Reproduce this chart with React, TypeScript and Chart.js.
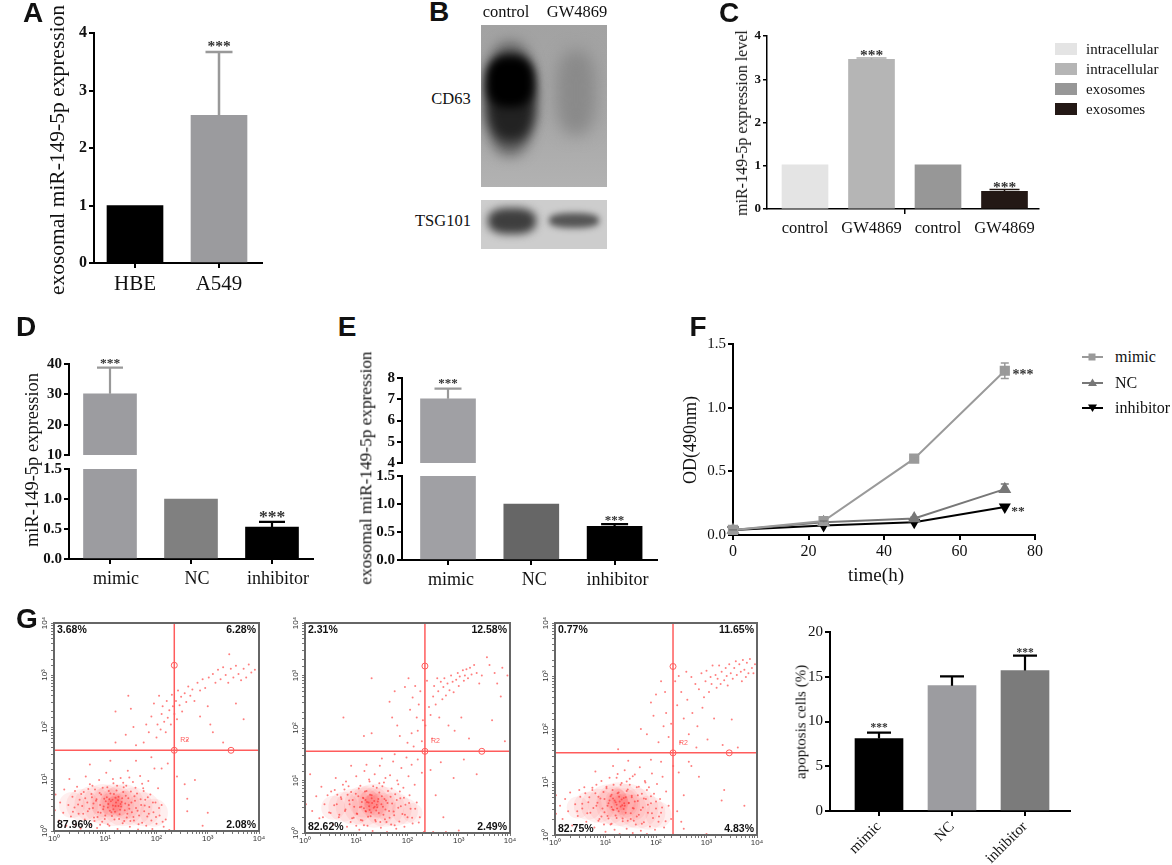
import { useEffect, useRef } from 'react';
import { Chart, registerables } from 'chart.js';

Chart.register(...registerables);

const SERIF = '"Liberation Serif"';
const SANS = '"Liberation Sans"';

// panel A
const catsA = ['HBE', 'A549'];
const valuesA = [1, 2.57];
const errTopA = [null, 3.67];
const colorsA = ['#000000', '#9b9b9e'];
const starsA = [{ x: 1, y: 3.81, size: 15.5 }];

// panel C
const catsC = ['control', 'GW4869', 'control', 'GW4869'];
const valuesC = [1.02, 3.46, 1.02, 0.41];
const errTopC = [null, 3.49, null, 0.45];
const colorsC = ['#e4e4e4', '#b5b5b5', '#979797', '#231815'];
const legendC = ['intracellular', 'intracellular', 'exosomes', 'exosomes'];
const starsC = [{ x: 1, y: 3.61, size: 15.5 }, { x: 3, y: 0.56, size: 15.5 }];

// panels D and E have a broken axis, so two charts each
const catsDE = ['mimic', 'NC', 'inhibitor'];
const upperD = [30.2, null, null];
const errTopUpperD = [38.8, null, null];
const lowerD = [1.5, 1, 0.53];
const errTopLowerD = [null, null, 0.62];
const colorsD = ['#9c9ca0', '#808080', '#000000'];
const upperE = [7.02, null, null];
const errTopUpperE = [7.5, null, null];
const lowerE = [1.5, 1, 0.6];
const errTopLowerE = [null, null, 0.64];
const colorsE = ['#a0a0a4', '#666666', '#000000'];

// panel F
const hoursF = [0, 24, 48, 72];
const mimicF = [0.04, 0.11, 0.6, 1.29];
const mimicErrF = [0, 0.01, 0.01, 0.06];
const ncF = [0.04, 0.1, 0.13, 0.36];
const ncErrF = [0, 0.01, 0.01, 0.04];
const inhibitorF = [0.04, 0.075, 0.1, 0.22];

// panel G bars
const valuesG = [8.1, 14, 15.7];
const errTopG = [8.75, 15.05, 17.35];
const colorsG = ['#000000', '#9c9ca0', '#7b7b7b'];

// flow plots: log10 of the two channels
const pct1 = ['3.68%', '6.28%', '87.96%', '2.08%'];
const pct2 = ['2.31%', '12.58%', '82.62%', '2.49%'];
const pct3 = ['0.77%', '11.65%', '82.75%', '4.83%'];
const gate1 = [2.347, 1.552, 3.454, 3.187];
const gate2 = [2.34, 1.556, 3.45, 3.18];
const gate3 = [2.337, 1.55, 3.45, 3.18];

// density of the main population: [x, y, radius]
const blobs1 = [[0.35, 0.5, 13], [0.55, 0.5, 16], [0.75, 0.52, 18], [0.95, 0.52, 20], [1.15, 0.5, 21], [1.35, 0.5, 21], [1.55, 0.47, 19], [1.75, 0.42, 17], [1.95, 0.35, 14], [1.0, 0.55, 15], [1.2, 0.55, 15], [1.4, 0.5, 14], [1.1, 0.52, 11], [1.25, 0.5, 11], [1.2, 0.52, 8], [1.15, 0.55, 6]];
const blobs2 = [[0.55, 0.48, 12], [0.75, 0.5, 15], [0.95, 0.5, 18], [1.15, 0.52, 20], [1.35, 0.52, 22], [1.55, 0.5, 20], [1.75, 0.45, 17], [1.95, 0.42, 13], [2.1, 0.38, 10], [1.15, 0.58, 15], [1.35, 0.58, 15], [1.5, 0.52, 13], [1.25, 0.6, 11], [1.38, 0.55, 11], [1.3, 0.58, 8], [1.27, 0.62, 6]];
const blobs3 = [[0.45, 0.52, 11], [0.65, 0.55, 14], [0.85, 0.55, 17], [1.05, 0.58, 20], [1.25, 0.58, 22], [1.45, 0.55, 22], [1.65, 0.5, 20], [1.85, 0.42, 17], [2.05, 0.38, 13], [1.15, 0.62, 15], [1.35, 0.6, 15], [1.55, 0.52, 13], [1.22, 0.66, 11], [1.38, 0.58, 11], [1.3, 0.62, 8], [1.22, 0.68, 6]];

const lower1 = [[0.02, 0.4], [0.03, 0.7], [0.1, 0.2], [0.12, 0.55], [0.18, 0.35], [0.2, 0.8], [0.24, 0.1], [0.28, 0.5], [0.3, 1], [0.33, 0.28], [0.36, 0.66], [0.4, 0.45], [0.42, 0.12], [0.45, 0.85], [0.48, 0.33], [0.5, 0.6], [0.52, 0.05], [0.55, 0.48], [0.58, 0.75], [0.6, 0.22], [0.62, 1.05], [0.65, 0.55], [0.66, 0.38], [0.7, 0.9], [0.72, 0.12], [0.74, 0.65], [0.76, 0.44], [0.78, 0.26], [0.8, 0.8], [0.82, 0.58], [0.84, 0.06], [0.86, 0.36], [0.88, 0.98], [0.9, 0.5], [0.92, 0.7], [0.94, 0.18], [0.96, 0.42], [0.98, 0.62], [1, 0.3], [1.02, 1.12], [1.04, 0.84], [1.06, 0.52], [1.08, 0.1], [1.1, 0.72], [1.12, 0.36], [1.14, 0.6], [1.16, 0.92], [1.18, 0.22], [1.2, 0.48], [1.22, 0.78], [1.24, 0.04], [1.26, 0.66], [1.28, 0.32], [1.3, 1.02], [1.32, 0.56], [1.34, 0.15], [1.36, 0.84], [1.38, 0.4], [1.4, 0.68], [1.42, 0.26], [1.44, 1.16], [1.46, 0.5], [1.48, 0.08], [1.5, 0.76], [1.52, 0.36], [1.54, 0.94], [1.56, 0.2], [1.58, 0.58], [1.6, 0.44], [1.62, 0.72], [1.64, 0.03], [1.66, 0.3], [1.68, 1.06], [1.7, 0.5], [1.72, 0.16], [1.74, 0.82], [1.76, 0.38], [1.78, 0.6], [1.8, 0.1], [1.82, 0.28], [1.84, 0.96], [1.86, 0.46], [1.88, 0.7], [1.9, 0.2], [1.92, 0.04], [1.94, 0.36], [1.96, 1.2], [1.98, 0.55], [2, 0.14], [2.03, 0.82], [2.06, 0.3], [2.1, 0.5], [2.14, 0.08], [2.18, 0.22], [2.22, 1.3], [2.25, 0.02], [2.4, 1.05], [2.55, 0.9], [2.6, 0.62], [2.75, 0.98], [2.6, 0.38], [3, 0.35], [2.9, 0.1], [1.1, 1.35], [1.6, 1.35], [1.9, 1.42], [2.1, 1.2], [0.7, 1.28]];
const dense1 = [[1.21, 0.55], [0.97, 0.47], [1.33, 0.63], [1.09, 0.39], [1.47, 0.43], [0.83, 0.61], [1.17, 0.71], [1.29, 0.41], [1.03, 0.65], [1.39, 0.53], [0.91, 0.35], [1.57, 0.67], [1.13, 0.29], [0.77, 0.53], [1.43, 0.33], [1.25, 0.59], [1.07, 0.77], [0.69, 0.43], [1.51, 0.55], [1.19, 0.37], [0.89, 0.73], [1.35, 0.75], [1.63, 0.39], [0.99, 0.23], [1.27, 0.23], [0.61, 0.63], [1.11, 0.57], [1.45, 0.63], [0.85, 0.27], [1.69, 0.61], [1.23, 0.87], [1.05, 0.45], [1.37, 0.19], [0.73, 0.71], [1.55, 0.27], [0.95, 0.83], [1.31, 0.47], [1.15, 0.49], [1.77, 0.49], [0.57, 0.33], [1.41, 0.87], [0.79, 0.19], [1.59, 0.83], [1.01, 0.57], [1.49, 0.19], [0.67, 0.81], [1.85, 0.33], [1.75, 0.77], [0.47, 0.51], [0.53, 0.71], [1.93, 0.55], [1.99, 0.27], [0.37, 0.37], [1.65, 0.13], [0.41, 0.77], [1.15, 1], [1.35, 0.93], [1.05, 0.13], [1.83, 0.65], [2.05, 0.44], [2.12, 0.18], [0.9, 0.12], [1.72, 0.91], [0.75, 0.87], [1.47, 1.03], [1.2, 0.64], [1.08, 0.61], [1.3, 0.52], [1.16, 0.42], [1.26, 0.48]];
const upper1 = [[1.2, 1.7], [1.4, 1.85], [1.5, 2.35], [1.6, 1.65], [1.2, 2.3], [1.45, 2.6], [1.55, 2.0], [1.75, 1.7], [1.8, 2.05], [1.85, 1.9], [1.9, 2.2], [1.95, 2.45], [2.0, 1.8], [2.02, 2.05], [2.05, 2.6], [2.08, 1.95], [2.1, 2.25], [2.12, 2.4], [2.15, 2.1], [2.18, 1.9], [2.2, 2.5], [2.22, 2.18], [2.25, 2.32], [2.28, 2.05], [2.3, 2.62], [2.32, 2.4], [2.35, 2.25], [2.38, 2.5], [2.4, 2.15], [2.42, 2.7], [2.45, 2.42], [2.48, 2.58], [2.5, 2.3], [2.55, 2.65], [2.58, 2.48], [2.62, 2.78], [2.66, 2.6], [2.7, 2.72], [2.74, 2.5], [2.8, 2.85], [2.85, 2.7], [2.9, 2.92], [2.95, 2.75], [3, 2.4], [3.02, 2.95], [3.05, 2.05], [3.1, 3.02], [3.15, 2.85], [3.2, 3.1], [3.25, 2.92], [3.3, 3.15], [3.35, 3.0], [3.4, 2.85], [3.42, 3.4], [3.45, 3.12], [3.5, 2.95], [3.55, 3.18], [3.6, 3.02], [3.65, 2.9], [3.7, 3.12], [3.75, 2.95], [3.8, 3.2], [3.85, 3.05], [3.92, 3.1], [3.7, 2.15], [2.6, 1.75], [3.1, 1.9], [3.3, 1.7], [3.55, 2.45], [2.85, 2.2]];

const lower2 = [[0.02, 0.55], [0.1, 1.12], [0.14, 0.42], [0.22, 0.7], [0.28, 0.28], [0.32, 0.88], [0.38, 0.55], [0.44, 0.72], [0.5, 0.38], [0.55, 0.16], [0.58, 0.82], [0.62, 0.55], [0.66, 0.3], [0.7, 0.68], [0.74, 0.92], [0.78, 0.42], [0.82, 0.12], [0.86, 0.62], [0.9, 0.78], [0.92, 0.28], [0.96, 0.5], [1, 1.08], [1.02, 0.36], [1.04, 0.7], [1.06, 0.06], [1.08, 0.9], [1.1, 0.5], [1.12, 0.24], [1.14, 0.66], [1.16, 1.18], [1.18, 0.42], [1.2, 0.8], [1.22, 0.14], [1.24, 0.58], [1.26, 0.98], [1.28, 0.32], [1.3, 0.72], [1.32, 0.04], [1.34, 0.48], [1.36, 1.12], [1.38, 0.22], [1.4, 0.86], [1.42, 0.6], [1.44, 0.38], [1.46, 1.28], [1.48, 0.1], [1.5, 0.7], [1.52, 0.5], [1.54, 0.96], [1.56, 0.26], [1.58, 0.62], [1.6, 0.02], [1.62, 0.8], [1.64, 0.42], [1.66, 1.1], [1.68, 0.16], [1.7, 0.56], [1.72, 1.36], [1.74, 0.34], [1.76, 0.74], [1.78, 0.08], [1.8, 1], [1.82, 0.48], [1.84, 0.22], [1.86, 0.66], [1.88, 1.24], [1.9, 0.36], [1.92, 0.86], [1.94, 0.12], [1.96, 0.54], [1.98, 1.44], [2, 0.3], [2.02, 1.08], [2.04, 0.72], [2.06, 0.46], [2.08, 1.3], [2.1, 0.18], [2.14, 0.92], [2.18, 0.58], [2.2, 1.4], [2.24, 0.3], [2.28, 1.15], [2.32, 0.02], [2.45, 1.2], [2.55, 0.72], [2.65, 1.35], [2.7, 0.3], [2.9, 1.05], [3, 0.05], [3.35, 1.12], [3.1, 1.4], [1.5, 1.42], [0.9, 1.28], [0.6, 1.05], [0.35, 0.3], [2.5, 0.02], [2.75, 0.02], [1.2, 1.3], [1.75, 1.5], [0.8, 0.98]];
const dense2 = [[1.31, 0.57], [1.07, 0.49], [1.43, 0.65], [1.19, 0.41], [1.57, 0.45], [0.93, 0.63], [1.27, 0.73], [1.39, 0.43], [1.13, 0.67], [1.49, 0.55], [1.01, 0.37], [1.67, 0.69], [1.23, 0.31], [0.87, 0.55], [1.53, 0.35], [1.35, 0.61], [1.17, 0.79], [0.79, 0.45], [1.61, 0.57], [1.29, 0.39], [0.99, 0.75], [1.45, 0.77], [1.73, 0.41], [1.09, 0.25], [1.37, 0.25], [0.71, 0.65], [1.21, 0.59], [1.55, 0.65], [0.95, 0.29], [1.79, 0.63], [1.33, 0.89], [1.15, 0.47], [1.47, 0.21], [0.83, 0.73], [1.65, 0.29], [1.05, 0.85], [1.41, 0.49], [1.25, 0.51], [1.87, 0.51], [0.67, 0.35], [1.51, 0.89], [0.89, 0.21], [1.69, 0.85], [1.11, 0.59], [1.59, 0.21], [0.77, 0.83], [1.95, 0.35], [1.85, 0.79], [0.57, 0.53], [0.63, 0.73], [2.03, 0.57], [2.09, 0.29], [0.47, 0.39], [1.75, 0.15], [0.51, 0.79], [1.25, 1.02], [1.45, 0.95], [1.15, 0.15], [1.93, 0.67], [2.15, 0.46], [2.22, 0.2], [1.0, 0.14], [1.82, 0.93], [0.85, 0.89], [1.57, 1.05], [1.3, 0.66], [1.18, 0.63], [1.4, 0.54], [1.26, 0.44], [1.36, 0.5]];
const upper2 = [[0.75, 2.2], [1.15, 1.85], [1.3, 1.9], [1.3, 2.95], [1.65, 2.5], [1.7, 2.2], [1.75, 2.7], [1.8, 2.05], [1.85, 1.85], [1.95, 2.78], [2.0, 1.72], [2.02, 2.95], [2.05, 2.35], [2.08, 1.9], [2.1, 2.58], [2.12, 1.65], [2.15, 2.8], [2.18, 2.2], [2.2, 1.95], [2.22, 2.45], [2.25, 2.7], [2.28, 1.75], [2.3, 2.15], [2.35, 2.05], [2.38, 2.9], [2.42, 2.4], [2.45, 2.25], [2.48, 1.8], [2.5, 2.6], [2.52, 2.8], [2.55, 2.45], [2.58, 2.95], [2.6, 2.7], [2.62, 2.2], [2.65, 2.88], [2.68, 2.55], [2.7, 2.78], [2.72, 2.95], [2.75, 2.62], [2.78, 2.85], [2.8, 2.05], [2.82, 2.72], [2.85, 3.0], [2.88, 2.88], [2.9, 2.68], [2.92, 1.95], [2.95, 2.92], [2.98, 3.05], [3, 2.8], [3.02, 2.98], [3.05, 2.2], [3.08, 3.1], [3.1, 2.9], [3.12, 3.0], [3.15, 3.12], [3.18, 2.95], [3.2, 1.8], [3.22, 3.15], [3.25, 3.02], [3.3, 3.2], [3.35, 3.05], [3.4, 2.85], [3.45, 3.0], [3.55, 3.35], [3.6, 3.2], [3.65, 2.15], [3.7, 3.05], [3.75, 2.85], [3.85, 3.15], [3.95, 3.0], [3.9, 1.75], [3.82, 2.6]];

const lower3 = [[0.02, 0.4], [0.02, 0.75], [0.1, 0.55], [0.15, 0.3], [0.2, 0.68], [0.26, 0.45], [0.3, 0.8], [0.34, 0.18], [0.4, 0.58], [0.45, 0.36], [0.5, 0.72], [0.54, 0.5], [0.58, 0.9], [0.62, 0.25], [0.66, 0.62], [0.7, 0.42], [0.74, 0.85], [0.78, 0.14], [0.82, 0.55], [0.86, 0.72], [0.88, 0.3], [0.92, 1.02], [0.94, 0.5], [0.98, 0.68], [1, 0.06], [1.02, 0.88], [1.04, 0.36], [1.06, 0.6], [1.08, 1.08], [1.1, 0.2], [1.12, 0.76], [1.14, 0.48], [1.16, 0.95], [1.18, 0.1], [1.2, 0.62], [1.22, 0.32], [1.24, 1.15], [1.26, 0.8], [1.28, 0.02], [1.3, 0.54], [1.32, 0.98], [1.34, 0.26], [1.36, 0.7], [1.38, 1.22], [1.4, 0.42], [1.42, 0.12], [1.44, 0.86], [1.46, 0.6], [1.48, 1.06], [1.5, 0.3], [1.52, 0.74], [1.54, 0.04], [1.56, 0.5], [1.58, 1.14], [1.6, 0.2], [1.62, 0.9], [1.64, 0.64], [1.66, 0.38], [1.68, 1.28], [1.7, 0.08], [1.72, 0.78], [1.74, 0.52], [1.76, 0.24], [1.78, 1.02], [1.8, 0.68], [1.82, 0.02], [1.84, 0.42], [1.86, 0.9], [1.88, 0.16], [1.9, 0.6], [1.92, 1.16], [1.94, 0.32], [1.96, 0.78], [1.98, 0.1], [2, 0.5], [2.02, 0.96], [2.05, 0.25], [2.08, 0.68], [2.1, 0.42], [2.13, 1.1], [2.16, 0.14], [2.2, 0.82], [2.25, 0.55], [2.3, 0.3], [2.34, 1.3], [2.42, 0.45], [2.45, 1.18], [2.5, 0.25], [2.55, 0.12], [2.65, 1.38], [2.7, 1.3], [2.85, 1.1], [3.0, 0.02], [3.35, 0.85], [3.3, 0.65], [3.75, 0.55], [1.45, 1.4], [1.15, 1.3], [1.9, 1.42], [2.1, 1.38], [0.8, 1.2], [2.55, 0.75]];
const dense3 = [[1.28, 0.63], [1.04, 0.55], [1.4, 0.71], [1.16, 0.47], [1.54, 0.51], [0.9, 0.69], [1.24, 0.79], [1.36, 0.49], [1.1, 0.73], [1.46, 0.61], [0.98, 0.43], [1.64, 0.75], [1.2, 0.37], [0.84, 0.61], [1.5, 0.41], [1.32, 0.67], [1.14, 0.85], [0.76, 0.51], [1.58, 0.63], [1.26, 0.45], [0.96, 0.81], [1.42, 0.83], [1.7, 0.47], [1.06, 0.31], [1.34, 0.31], [0.68, 0.71], [1.18, 0.65], [1.52, 0.71], [0.92, 0.35], [1.76, 0.69], [1.3, 0.95], [1.12, 0.53], [1.44, 0.27], [0.8, 0.79], [1.62, 0.35], [1.02, 0.91], [1.38, 0.55], [1.22, 0.57], [1.84, 0.57], [0.64, 0.41], [1.48, 0.95], [0.86, 0.27], [1.66, 0.91], [1.08, 0.65], [1.56, 0.27], [0.74, 0.89], [1.92, 0.41], [1.82, 0.85], [0.54, 0.59], [0.6, 0.79], [2, 0.63], [2.06, 0.35], [0.44, 0.45], [1.72, 0.21], [0.48, 0.85], [1.22, 1.08], [1.42, 1.01], [1.12, 0.21], [1.9, 0.73], [2.12, 0.52], [2.19, 0.26], [0.97, 0.2], [1.79, 0.99], [0.82, 0.95], [1.54, 1.11], [1.27, 0.72], [1.15, 0.69], [1.37, 0.6], [1.23, 0.5], [1.33, 0.56]];
const upper3 = [[1.25, 1.62], [1.9, 2.5], [1.82, 1.9], [1.7, 2.0], [1.95, 2.25], [2.0, 2.65], [2.05, 1.75], [2.1, 2.9], [2.15, 2.05], [2.18, 2.7], [2.2, 2.3], [2.25, 1.85], [2.3, 2.1], [2.38, 2.9], [2.42, 2.45], [2.45, 3.0], [2.48, 1.75], [2.5, 2.7], [2.55, 2.2], [2.6, 3.08], [2.62, 2.55], [2.65, 1.9], [2.7, 2.98], [2.72, 2.3], [2.78, 2.85], [2.8, 1.65], [2.82, 2.05], [2.85, 2.75], [2.9, 3.05], [2.92, 2.4], [2.95, 2.6], [2.98, 2.9], [3, 3.1], [3.02, 1.8], [3.05, 2.7], [3.08, 2.98], [3.1, 2.85], [3.12, 3.2], [3.15, 2.2], [3.18, 3.02], [3.2, 2.78], [3.22, 2.95], [3.25, 3.2], [3.28, 2.85], [3.3, 3.08], [3.32, 1.7], [3.35, 2.92], [3.38, 3.15], [3.4, 3.0], [3.42, 2.82], [3.45, 3.22], [3.48, 3.05], [3.5, 2.18], [3.52, 2.95], [3.55, 3.15], [3.58, 3.28], [3.6, 3.02], [3.62, 1.65], [3.65, 3.22], [3.68, 3.08], [3.7, 2.9], [3.72, 3.3], [3.75, 3.12], [3.78, 2.98], [3.8, 3.25], [3.83, 3.05], [3.86, 3.32], [3.9, 3.15], [3.93, 3.05], [3.96, 3.22]];

type Area = { l: number; r: number; t: number; b: number };
type Star = { x: number; y: number; size: number; text?: string };
type Err = { x: number; lo: number; hi: number; color: string; cap: number; lw: number; both?: boolean };

const M = { l: 60, r: 45, t: 22, b: 60 };

function canvasBox(a: Area) {
  return { left: a.l - M.l, top: a.t - M.t, width: a.r - a.l + M.l + M.r, height: a.b - a.t + M.t + M.b };
}

// draws error bars and significance stars from the chart's own scales
function marksPlugin(errs: Err[], stars: Star[]) {
  return {
    id: 'marks',
    afterDatasetsDraw(chart: any) {
      const { ctx, scales } = chart;
      ctx.save();
      for (const e of errs) {
        const px = scales.x.getPixelForValue(e.x);
        const lo = scales.y.getPixelForValue(e.lo);
        const hi = scales.y.getPixelForValue(e.hi);
        ctx.strokeStyle = e.color;
        ctx.lineWidth = e.lw;
        ctx.beginPath();
        ctx.moveTo(px, lo);
        ctx.lineTo(px, hi);
        ctx.moveTo(px - e.cap / 2, hi);
        ctx.lineTo(px + e.cap / 2, hi);
        if (e.both) {
          ctx.moveTo(px - e.cap / 2, lo);
          ctx.lineTo(px + e.cap / 2, lo);
        }
        ctx.stroke();
      }
      ctx.fillStyle = '#333';
      ctx.textAlign = 'center';
      ctx.textBaseline = 'alphabetic';
      for (const s of stars) {
        ctx.font = `bold ${s.size}px ${SERIF}`;
        ctx.fillText(s.text ?? '***', scales.x.getPixelForValue(s.x), scales.y.getPixelForValue(s.y) + s.size * 0.47);
      }
      ctx.restore();
    },
  };
}

// panel C has a single x tick, between the two pairs of bars
const midTickPlugin = {
  id: 'midTick',
  afterDraw(chart: any) {
    const { ctx, scales, chartArea } = chart;
    const px = scales.x.getPixelForValue(1.5);
    ctx.save();
    ctx.strokeStyle = '#000';
    ctx.lineWidth = 1.5;
    ctx.beginPath();
    ctx.moveTo(px, chartArea.bottom);
    ctx.lineTo(px, chartArea.bottom + 5);
    ctx.stroke();
    ctx.restore();
  },
};

type BarOpts = {
  area: Area;
  c0: number;
  band: number;
  barW: number;
  cats: string[];
  values: (number | null)[];
  colors: string[];
  tops?: (number | null)[];
  errColors?: string[];
  cap?: number;
  errLw?: number;
  stars?: Star[];
  yMin: number;
  yMax: number;
  yStep: number;
  decimals?: number;
  hideX?: boolean;
  yFont?: any;
  xFont?: any;
  tickLen?: number;
  axisLw?: number;
  xPad?: number;
  yPad?: number;
  labelOffset?: number;
  rotate?: number;
  noXTicks?: boolean;
  extra?: any[];
};

function barConfig(o: BarOpts): any {
  const errs: Err[] = [];
  (o.tops ?? []).forEach((t, i) => {
    if (t != null) errs.push({ x: i, lo: o.values[i] as number, hi: t, color: o.errColors?.[i] ?? '#000', cap: o.cap ?? 24, lw: o.errLw ?? 2.2 });
  });
  const lw = o.axisLw ?? 2;
  const tl = o.tickLen ?? 5;
  return {
    type: 'bar',
    data: {
      datasets: [
        {
          data: o.values.map((v, i) => ({ x: i, y: v })),
          backgroundColor: o.colors,
          barThickness: o.barW,
        },
      ],
    },
    options: {
      animation: false,
      responsive: false,
      devicePixelRatio: 1,
      layout: { padding: { top: M.t, right: M.r } },
      plugins: { legend: { display: false }, tooltip: { enabled: false } },
      scales: {
        x: {
          type: 'linear',
          display: !o.hideX,
          offset: false,
          min: (o.area.l - o.c0) / o.band,
          max: (o.area.r - o.c0) / o.band,
          afterBuildTicks: (s: any) => {
            s.ticks = o.cats.map((_, i) => ({ value: i }));
          },
          afterFit: (s: any) => {
            s.height = M.b;
          },
          grid: { offset: false, drawOnChartArea: false, color: '#000', lineWidth: lw, tickLength: tl, drawTicks: !o.noXTicks },
          border: { color: '#000', width: lw },
          ticks: {
            autoSkip: false,
            color: '#111',
            font: o.xFont ?? { family: SERIF, size: 18 },
            padding: o.xPad ?? 3,
            labelOffset: o.labelOffset ?? 0,
            minRotation: o.rotate ?? 0,
            maxRotation: o.rotate ?? 0,
            callback: (v: number) => o.cats[v],
          },
        },
        y: {
          min: o.yMin,
          max: o.yMax,
          afterFit: (s: any) => {
            s.width = M.l;
          },
          grid: { drawOnChartArea: false, color: '#000', lineWidth: lw, tickLength: tl },
          border: { color: '#000', width: lw },
          ticks: {
            stepSize: o.yStep,
            color: '#111',
            font: o.yFont ?? { family: SERIF, size: 15, weight: 'bold' },
            padding: o.yPad ?? 2,
            callback: (v: number) => v.toFixed(o.decimals ?? 0),
          },
        },
      },
    },
    plugins: [marksPlugin(errs, o.stars ?? []), ...(o.extra ?? [])],
  };
}

function lineConfig(): any {
  const base = (data: number[], color: string, style: string, r: number, rot = 0) => ({
    data: hoursF.map((h, i) => ({ x: h, y: data[i] })),
    borderColor: color,
    backgroundColor: color,
    borderWidth: 2,
    pointStyle: style,
    pointRadius: r,
    pointRotation: rot,
    tension: 0,
    clip: false as const,
  });
  const errs: Err[] = hoursF.flatMap((h, i) => [
    { x: h, lo: mimicF[i] - mimicErrF[i], hi: mimicF[i] + mimicErrF[i], color: '#999', cap: 8, lw: 1.5, both: true },
    { x: h, lo: ncF[i], hi: ncF[i] + ncErrF[i], color: '#777', cap: 8, lw: 1.5 },
  ]);
  const stars = [
    { x: 76.8, y: 1.28, size: 14 },
    { x: 75.5, y: 0.21, size: 13.5, text: '**' },
  ];
  return {
    type: 'line',
    data: {
      datasets: [
        base(mimicF, '#9a9a9a', 'rect', 5.8),
        base(ncF, '#777777', 'triangle', 5.5),
        base(inhibitorF, '#000000', 'triangle', 5, 180),
      ],
    },
    options: {
      animation: false,
      responsive: false,
      devicePixelRatio: 1,
      layout: { padding: { top: M.t, right: M.r } },
      plugins: { legend: { display: false }, tooltip: { enabled: false } },
      scales: {
        x: {
          type: 'linear',
          min: 0,
          max: 80,
          afterFit: (s: any) => {
            s.height = M.b;
          },
          grid: { drawOnChartArea: false, color: '#000', lineWidth: 2, tickLength: 5 },
          border: { color: '#000', width: 2 },
          ticks: { stepSize: 20, color: '#111', padding: 2, font: { family: SERIF, size: 16 } },
        },
        y: {
          min: 0,
          max: 1.5,
          afterFit: (s: any) => {
            s.width = M.l;
          },
          grid: { drawOnChartArea: false, color: '#000', lineWidth: 2, tickLength: 5 },
          border: { color: '#000', width: 2 },
          ticks: { stepSize: 0.5, color: '#111', padding: 2, font: { family: SERIF, size: 15 }, callback: (v: number) => v.toFixed(1) },
        },
      },
    },
    plugins: [marksPlugin(errs, stars)],
  };
}

const SUP = ['\u2070', '\u00b9', '\u00b2', '\u00b3', '\u2074'];

function decadeLabel(v: number) {
  const e = Math.round(Math.log10(v));
  return Math.abs(Math.log10(v) - e) < 1e-6 ? `10${SUP[e]}` : '';
}

function flowConfig(points: number[][], dense: number[][], upper: number[][], blobs: number[][], pct: string[], gate: number[]): any {
  const red = '#ff5c5c';
  const [gx, gy, mx, my] = gate.map((g) => 10 ** g);
  const logAxis = (vertical: boolean) => ({
    type: 'logarithmic',
    min: 1,
    max: 10000,
    afterFit: (s: any) => {
      if (vertical) s.width = M.l;
      else s.height = M.b;
    },
    grid: { drawOnChartArea: false, color: '#777', lineWidth: 1, tickLength: 3 },
    border: { color: '#666', width: 2 },
    ticks: {
      autoSkip: false,
      color: '#333',
      padding: 0,
      minRotation: vertical ? 90 : 0,
      maxRotation: vertical ? 90 : 0,
      crossAlign: vertical ? 'center' : 'near',
      font: { family: SANS, size: 8 },
      callback: decadeLabel,
    },
  });
  const pctPlugin = {
    id: 'pct',
    afterDatasetsDraw(chart: any) {
      const { ctx, chartArea: a, scales } = chart;
      ctx.save();
      ctx.strokeStyle = '#666';
      ctx.lineWidth = 2;
      ctx.strokeRect(a.left, a.top, a.right - a.left, a.bottom - a.top);
      ctx.fillStyle = '#111';
      ctx.font = `bold 10.5px ${SANS}`;
      ctx.textBaseline = 'middle';
      ctx.textAlign = 'left';
      ctx.fillText(pct[0], a.left + 3, a.top + 7);
      ctx.fillText(pct[2], a.left + 3, a.bottom - 6);
      ctx.textAlign = 'right';
      ctx.fillText(pct[1], a.right - 3, a.top + 7);
      ctx.fillText(pct[3], a.right - 3, a.bottom - 6);
      ctx.fillStyle = red;
      ctx.font = `7px ${SANS}`;
      ctx.textAlign = 'left';
      ctx.fillText('R2', scales.x.getPixelForValue(gx) + 6, scales.y.getPixelForValue(gy) - 10);
      ctx.restore();
    },
  };
  const gateLine = (data: { x: number; y: number }[]) => ({
    type: 'line' as const,
    data,
    borderColor: red,
    borderWidth: 1.5,
    pointRadius: 0,
  });
  return {
    type: 'scatter',
    data: {
      datasets: [
        gateLine([{ x: gx, y: 1 }, { x: gx, y: 10000 }]),
        gateLine([{ x: 1, y: gy }, { x: 10000, y: gy }]),
        {
          data: [{ x: gx, y: my }, { x: gx, y: gy }, { x: mx, y: gy }],
          pointRadius: 3,
          borderColor: red,
          backgroundColor: 'rgba(255,255,255,0.4)',
          borderWidth: 1,
        },
        {
          data: [...points, ...dense, ...upper].map((p) => ({ x: 10 ** p[0], y: 10 ** p[1] })),
          pointRadius: 1,
          borderWidth: 0,
          backgroundColor: 'rgba(255,40,40,0.6)',
        },
        {
          type: 'bubble' as const,
          data: blobs.map((p) => ({ x: 10 ** p[0], y: 10 ** p[1], r: p[2] })),
          backgroundColor: 'rgba(255,30,30,0.07)',
          borderWidth: 0,
        },
      ],
    },
    options: {
      animation: false,
      responsive: false,
      devicePixelRatio: 1,
      layout: { padding: { top: M.t, right: M.r } },
      plugins: { legend: { display: false }, tooltip: { enabled: false } },
      scales: { x: logAxis(false), y: logAxis(true) },
    },
    plugins: [pctPlugin],
  };
}

function Panel({ area, make }: { area: Area; make: () => any }) {
  const ref = useRef<HTMLCanvasElement>(null);
  const box = canvasBox(area);
  useEffect(() => {
    if (!ref.current) return;
    const chart = new Chart(ref.current, make());
    return () => chart.destroy();
  }, []);
  return (
    <canvas
      ref={ref}
      width={box.width}
      height={box.height}
      style={{ position: 'absolute', left: box.left, top: box.top, width: box.width, height: box.height }}
    />
  );
}

function Text({ x, y, size, children, rotate, font, weight, align }: any) {
  const shift = align === 'left' ? '0' : '-50%';
  return (
    <div
      style={{
        position: 'absolute',
        left: x,
        top: y,
        fontFamily: font ?? SERIF,
        fontSize: size,
        fontWeight: weight ?? 'normal',
        lineHeight: 1,
        whiteSpace: 'nowrap',
        color: '#111',
        transform: `translate(${shift},-50%)${rotate ? ' rotate(-90deg)' : ''}`,
      }}
    >
      {children}
    </div>
  );
}

function Blob({ l, t, w, h, color, blur }: any) {
  return (
    <div
      style={{
        position: 'absolute',
        left: l,
        top: t,
        width: w,
        height: h,
        background: color,
        filter: `blur(${blur}px)`,
        borderRadius: '40%',
      }}
    />
  );
}

function Blot() {
  const frame = (t: number, h: number, bg: string, kids: any) => (
    <div style={{ position: 'absolute', left: 481, top: t, width: 126, height: h, background: bg, overflow: 'hidden' }}>{kids}</div>
  );
  return (
    <>
      {frame(
        25,
        162,
        'linear-gradient(#a2a2a2,#a8a8a8 60%,#b2b2b2)',
        <>
          <Blob l={6} t={18} w={46} h={112} color="#5e5e5e" blur={7} />
          <Blob l={6} t={30} w={48} h={86} color="#222" blur={6} />
          <Blob l={6} t={32} w={46} h={50} color="#000" blur={5} />
          <Blob l={75} t={25} w={40} h={85} color="#8a8a8a" blur={8} />
        </>
      )}
      {frame(
        200,
        49,
        '#cdcdcd',
        <>
          <Blob l={7} t={8} w={48} h={26} color="#3e3e3e" blur={4} />
          <Blob l={68} t={13} w={50} h={15} color="#555" blur={3} />
        </>
      )}
    </>
  );
}

function LegendSwatch({ y, color, label }: { y: number; color: string; label: string }) {
  return (
    <>
      <div style={{ position: 'absolute', left: 1055, top: y - 6, width: 22, height: 12, background: color }} />
      <Text x={1086} y={y} size={15} align="left">
        {label}
      </Text>
    </>
  );
}

function LegendLine({ y, color, label, marker }: { y: number; color: string; label: string; marker: string }) {
  return (
    <>
      <svg style={{ position: 'absolute', left: 1080, top: y - 8, width: 24, height: 16 }}>
        <line x1={2} y1={8} x2={23} y2={8} stroke={color} strokeWidth={2} />
        {marker === 'rect' && <rect x={8.5} y={4.5} width={7} height={7} fill={color} />}
        {marker === 'up' && <polygon points="12.5,3.5 17,11 8,11" fill={color} />}
        {marker === 'down' && <polygon points="12.5,12 17,4.5 8,4.5" fill={color} />}
      </svg>
      <Text x={1115} y={y} size={16} align="left">
        {label}
      </Text>
    </>
  );
}

const areaA = { l: 94, r: 262, t: 33, b: 263 };
const areaC = { l: 767, r: 1039, t: 36, b: 209 };
const areaDu = { l: 69, r: 313, t: 364, b: 455 };
const areaDl = { l: 69, r: 313, t: 469, b: 559 };
const areaEu = { l: 402, r: 657, t: 378, b: 463 };
const areaEl = { l: 402, r: 657, t: 476, b: 560 };
const areaF = { l: 733, r: 1035, t: 344, b: 535 };
const areaG1 = { l: 54, r: 259, t: 623, b: 831 };
const areaG2 = { l: 305, r: 510, t: 623, b: 833 };
const areaG3 = { l: 555, r: 757, t: 623, b: 835 };
const areaGb = { l: 830, r: 1070, t: 632, b: 811 };

const boldSmall = { family: SERIF, size: 13, weight: 'bold' };
const plainG = { family: SERIF, size: 15 };

export default function App() {
  return (
    <div style={{ position: 'absolute', left: 0, top: 0, width: 1172, height: 865, background: '#fff', overflow: 'hidden' }}>
      <Blot />
      <Panel
        area={areaA}
        make={() =>
          barConfig({
            area: areaA, c0: 135, band: 84, barW: 56, cats: catsA, values: valuesA, colors: colorsA,
            tops: errTopA, errColors: ['#000', '#999'], cap: 27, errLw: 2.5, stars: starsA,
            yMin: 0, yMax: 4, yStep: 1, yFont: { family: SERIF, size: 16, weight: 'bold' },
            xFont: { family: SERIF, size: 21 }, xPad: 4,
          })
        }
      />
      <Panel
        area={areaC}
        make={() =>
          barConfig({
            area: areaC, c0: 805, band: 66.5, barW: 46, cats: catsC, values: valuesC, colors: colorsC,
            tops: errTopC, errColors: ['#000', '#aaa', '#000', '#231815'], cap: 30, errLw: 1.5, stars: starsC,
            yMin: 0, yMax: 4, yStep: 1, yFont: boldSmall, xFont: { family: SERIF, size: 16.5 },
            noXTicks: true, axisLw: 1.5, tickLen: 4, xPad: 10, extra: [midTickPlugin],
          })
        }
      />
      <Panel
        area={areaDu}
        make={() =>
          barConfig({
            area: areaDu, c0: 110, band: 81, barW: 53, cats: catsDE, values: upperD, colors: colorsD,
            tops: errTopUpperD, errColors: ['#999'], cap: 26, stars: [{ x: 0, y: 41.1, size: 13.5 }],
            yMin: 10, yMax: 40, yStep: 10, hideX: true,
          })
        }
      />
      <Panel
        area={areaDl}
        make={() =>
          barConfig({
            area: areaDl, c0: 110, band: 81, barW: 53, cats: catsDE, values: lowerD, colors: colorsD,
            tops: errTopLowerD, errColors: ['#000', '#000', '#000'], cap: 26, stars: [{ x: 2, y: 0.75, size: 17.5 }],
            yMin: 0, yMax: 1.5, yStep: 0.5, decimals: 1, labelOffset: 6, xPad: 4,
          })
        }
      />
      <Panel
        area={areaEu}
        make={() =>
          barConfig({
            area: areaEu, c0: 448, band: 83.3, barW: 55, cats: catsDE, values: upperE, colors: colorsE,
            tops: errTopUpperE, errColors: ['#999'], cap: 27, stars: [{ x: 0, y: 7.87, size: 13 }],
            yMin: 4, yMax: 8, yStep: 1, hideX: true,
          })
        }
      />
      <Panel
        area={areaEl}
        make={() =>
          barConfig({
            area: areaEl, c0: 448, band: 83.3, barW: 55, cats: catsDE, values: lowerE, colors: colorsE,
            tops: errTopLowerE, errColors: ['#000', '#000', '#000'], cap: 27, stars: [{ x: 2, y: 0.75, size: 13 }],
            yMin: 0, yMax: 1.5, yStep: 0.5, decimals: 1, labelOffset: 3, xPad: 4,
          })
        }
      />
      <Panel area={areaF} make={lineConfig} />
      <Panel area={areaG1} make={() => flowConfig(lower1, dense1, upper1, blobs1, pct1, gate1)} />
      <Panel area={areaG2} make={() => flowConfig(lower2, dense2, upper2, blobs2, pct2, gate2)} />
      <Panel area={areaG3} make={() => flowConfig(lower3, dense3, upper3, blobs3, pct3, gate3)} />
      <Panel
        area={areaGb}
        make={() =>
          barConfig({
            area: areaGb, c0: 879, band: 73, barW: 48, cats: catsDE, values: valuesG, colors: colorsG,
            tops: errTopG, errColors: ['#000', '#000', '#000'], cap: 24,
            stars: [{ x: 0, y: 9.58, size: 11.5 }, { x: 2, y: 17.95, size: 11.5 }],
            yMin: 0, yMax: 20, yStep: 5, yFont: plainG, xFont: { family: SERIF, size: 15 }, rotate: 45, xPad: 2,
          })
        }
      />

      <Text x={33} y={13} size={28} weight="bold" font={SANS}>A</Text>
      <Text x={439} y={12} size={28} weight="bold" font={SANS}>B</Text>
      <Text x={729} y={13} size={28} weight="bold" font={SANS}>C</Text>
      <Text x={26} y={327} size={28} weight="bold" font={SANS}>D</Text>
      <Text x={347} y={327} size={28} weight="bold" font={SANS}>E</Text>
      <Text x={698} y={327} size={28} weight="bold" font={SANS}>F</Text>
      <Text x={27} y={619} size={28} weight="bold" font={SANS}>G</Text>

      <Text x={58} y={150} size={21.5} rotate>exosomal miR-149-5p expression</Text>
      <Text x={506} y={12} size={16.5}>control</Text>
      <Text x={577} y={12} size={16.5}>GW4869</Text>
      <Text x={451} y={99} size={16.5}>CD63</Text>
      <Text x={443} y={221} size={16.5}>TSG101</Text>
      <Text x={742} y={123} size={16} rotate>miR-149-5p expression level</Text>
      <Text x={32} y={460} size={18.5} rotate>miR-149-5p expression</Text>
      <Text x={366} y={468} size={17.3} rotate>exosomal miR-149-5p expression</Text>
      <Text x={690} y={440} size={18} rotate>OD(490nm)</Text>
      <Text x={876} y={574} size={19}>time(h)</Text>
      <Text x={801} y={722} size={15} rotate>apoptosis cells (%)</Text>

      {legendC.map((label, i) => (
        <LegendSwatch key={i} y={49 + i * 20} color={colorsC[i]} label={label} />
      ))}
      <LegendLine y={357} color="#9a9a9a" label="mimic" marker="rect" />
      <LegendLine y={383} color="#777777" label="NC" marker="up" />
      <LegendLine y={408} color="#000000" label="inhibitor" marker="down" />
    </div>
  );
}
